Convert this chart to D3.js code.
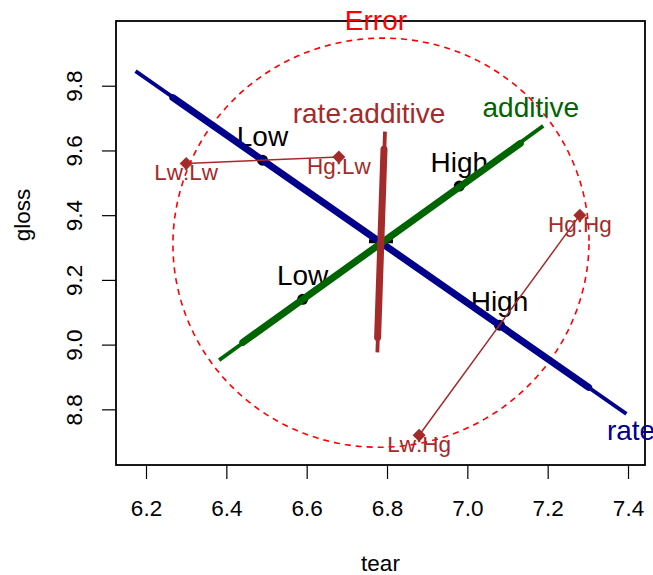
<!DOCTYPE html>
<html>
<head>
<meta charset="utf-8">
<script src="https://cdn.jsdelivr.net/npm/d3@7"></script>
<style>
  html, body { margin: 0; padding: 0; background: #fff; }
  svg { display: block; }
  text { font-family: "Liberation Sans", Arial, Helvetica, sans-serif; }
</style>
</head>
<body>
<svg id="chart" width="653" height="575"></svg>
<script>
// ---------------- data ----------------
const tearTicks = [6.2, 6.4, 6.6, 6.8, 7.0, 7.2, 7.4];
const glossTicks = [8.8, 9.0, 9.2, 9.4, 9.6, 9.8];
const tearDomain = [6.1253, 7.4423];
const glossDomain = [8.628, 10.0];

const grandMean = [6.785, 9.315];
const errorSSCP = [[1.764, 0.02], [0.02, 2.628]];
const errorRadius = 0.39;

const termNames = ["rate", "additive", "rate:additive"];
// evidence-scaled (thin, long) and effect-scaled (thick, short) degenerate ellipses
const evidenceEnds = [
  [[6.174, 9.845], [7.396, 8.786]],
  [[6.382, 8.952], [7.189, 9.676]],
  [[6.795, 9.658], [6.776, 8.976]]
];
const effectEnds = [
  [[6.267, 9.763], [7.302, 8.868]],
  [[6.441, 9.007], [7.132, 9.622]],
  [[6.7925, 9.604], [6.7766, 9.0225]]
];

const levelLabels = ["Low", "High"];
const rateTear = [6.49, 7.08];
const rateGloss = [9.57, 9.06];
const additiveTear = [6.59, 6.98];
const additiveGloss = [9.14, 9.49];

const cellLabels = ["Lw:Lw", "Hg:Lw", "Lw:Hg", "Hg:Hg"];
const cellTear = [6.30, 6.68, 6.88, 7.28];
const cellGloss = [9.56, 9.58, 8.72, 9.40];
const cellPairs = [[0, 1], [2, 3]];

// ---------------- styles ----------------
const termColors = ["#00008B", "#006400", "#A52A2A"];
const errColor = "#FF0000";
const cellColor = "#A52A2A";

const svg = d3.select("#chart");
const x = d3.scaleLinear().domain(tearDomain).range([116, 645]);
const y = d3.scaleLinear().domain(glossDomain).range([465, 21]);

// axes
const xAxis = svg.append("g").attr("transform", "translate(0,465)")
  .call(d3.axisBottom(x).tickValues(tearTicks).tickSize(14).tickFormat(d3.format(".1f")));
xAxis.select(".domain").remove();
xAxis.selectAll(".tick line").attr("stroke", "#000").attr("stroke-width", 1.2);
xAxis.selectAll(".tick text").attr("y", 51).attr("dy", null)
  .attr("font-size", 22.5).attr("fill", "#000")
  .style("font-family", '"Liberation Sans", Arial, sans-serif');

const yAxis = svg.append("g").attr("transform", "translate(116,0)")
  .call(d3.axisLeft(y).tickValues(glossTicks).tickSize(14).tickFormat(d3.format(".1f")));
yAxis.select(".domain").remove();
yAxis.selectAll(".tick line").attr("stroke", "#000").attr("stroke-width", 1.2);
yAxis.selectAll(".tick text")
  .attr("transform", "rotate(-90)")
  .attr("x", 0).attr("y", -34.5).attr("dy", null)
  .attr("text-anchor", "middle")
  .attr("font-size", 22.5).attr("fill", "#000")
  .style("font-family", '"Liberation Sans", Arial, sans-serif');

svg.append("text").attr("x", 380.5).attr("y", 571).attr("text-anchor", "middle")
  .attr("font-size", 22.5).text("tear");
svg.append("text").attr("transform", "translate(30,215) rotate(-90)")
  .attr("text-anchor", "middle").attr("font-size", 22.5).text("gloss");

// plot box
svg.append("rect").attr("x", 116).attr("y", 21).attr("width", 529).attr("height", 444)
  .attr("fill", "none").attr("stroke", "#000").attr("stroke-width", 1.8);

// error ellipse (Cholesky of SSCP)
const a = Math.sqrt(errorSSCP[0][0]);
const b = errorSSCP[1][0] / a;
const c2 = Math.sqrt(errorSSCP[1][1] - b * b);
const ellPts = d3.range(0, 2 * Math.PI + 0.001, Math.PI / 90).map(t => {
  const u = Math.cos(t), v = Math.sin(t);
  return [grandMean[0] + errorRadius * (a * u), grandMean[1] + errorRadius * (b * u + c2 * v)];
});
svg.append("path")
  .attr("d", d3.line().x(d => x(d[0])).y(d => y(d[1]))(ellPts))
  .attr("fill", "none").attr("stroke", errColor).attr("stroke-width", 1.6)
  .attr("stroke-dasharray", "6,5");

// grand mean marker
const cx = x(grandMean[0]), cy = y(grandMean[1]);
svg.append("path").attr("d", `M${cx - 12},${cy - 1.5}H${cx + 12}M${cx},${cy - 13.5}V${cy + 10.5}`)
  .attr("stroke", "#000").attr("stroke-width", 4).attr("fill", "none");

// evidence lines
evidenceEnds.forEach((e, i) => {
  svg.append("line")
    .attr("x1", x(e[0][0])).attr("y1", y(e[0][1]))
    .attr("x2", x(e[1][0])).attr("y2", y(e[1][1]))
    .attr("stroke", termColors[i]).attr("stroke-width", 3.8).attr("stroke-linecap", "butt");
});

// level means
function levelPoints(tx, gy) {
  tx.forEach((t, k) => {
    svg.append("circle").attr("cx", x(t)).attr("cy", y(gy[k])).attr("r", 5.5).attr("fill", "#000");
    svg.append("text").attr("x", x(t)).attr("y", y(gy[k]) - 14.5)
      .attr("text-anchor", "middle").attr("font-size", 28).attr("fill", "#000").text(levelLabels[k]);
  });
}
levelPoints(rateTear, rateGloss);
levelPoints(additiveTear, additiveGloss);

// effect lines
effectEnds.forEach((e, i) => {
  svg.append("line")
    .attr("x1", x(e[0][0])).attr("y1", y(e[0][1]))
    .attr("x2", x(e[1][0])).attr("y2", y(e[1][1]))
    .attr("stroke", termColors[i]).attr("stroke-width", 7).attr("stroke-linecap", "round");
});

// term labels
const rEnd = evidenceEnds[0][1];
svg.append("text").attr("x", x(rEnd[0]) - 19.5).attr("y", y(rEnd[1]) + 26.5)
  .attr("font-size", 28).attr("fill", termColors[0]).text(termNames[0]);
const aEnd = evidenceEnds[1][1];
svg.append("text").attr("x", x(aEnd[0]) - 12.5).attr("y", y(aEnd[1]) - 9)
  .attr("text-anchor", "middle").attr("font-size", 28).attr("fill", termColors[1]).text(termNames[1]);
const iEnd = evidenceEnds[2][0];
svg.append("text").attr("x", x(iEnd[0]) - 16).attr("y", y(iEnd[1]) - 8.5)
  .attr("text-anchor", "middle").attr("font-size", 28).attr("fill", termColors[2]).text(termNames[2]);
svg.append("text").attr("x", cx - 5).attr("y", y(d3.max(ellPts, d => d[1])) - 8)
  .attr("text-anchor", "middle").attr("font-size", 28).attr("fill", errColor).text("Error");

// interaction cell means
cellPairs.forEach(p => {
  svg.append("line")
    .attr("x1", x(cellTear[p[0]])).attr("y1", y(cellGloss[p[0]]))
    .attr("x2", x(cellTear[p[1]])).attr("y2", y(cellGloss[p[1]]))
    .attr("stroke", cellColor).attr("stroke-width", 1.5);
});
cellLabels.forEach((lab, k) => {
  const px = x(cellTear[k]), py = y(cellGloss[k]);
  svg.append("path").attr("d", `M${px},${py - 6.5}L${px + 6.5},${py}L${px},${py + 6.5}L${px - 6.5},${py}Z`)
    .attr("fill", cellColor);
  svg.append("text").attr("x", px).attr("y", py + 17)
    .attr("text-anchor", "middle").attr("font-size", 22.5).attr("fill", cellColor).text(lab);
});
</script>
</body>
</html>
